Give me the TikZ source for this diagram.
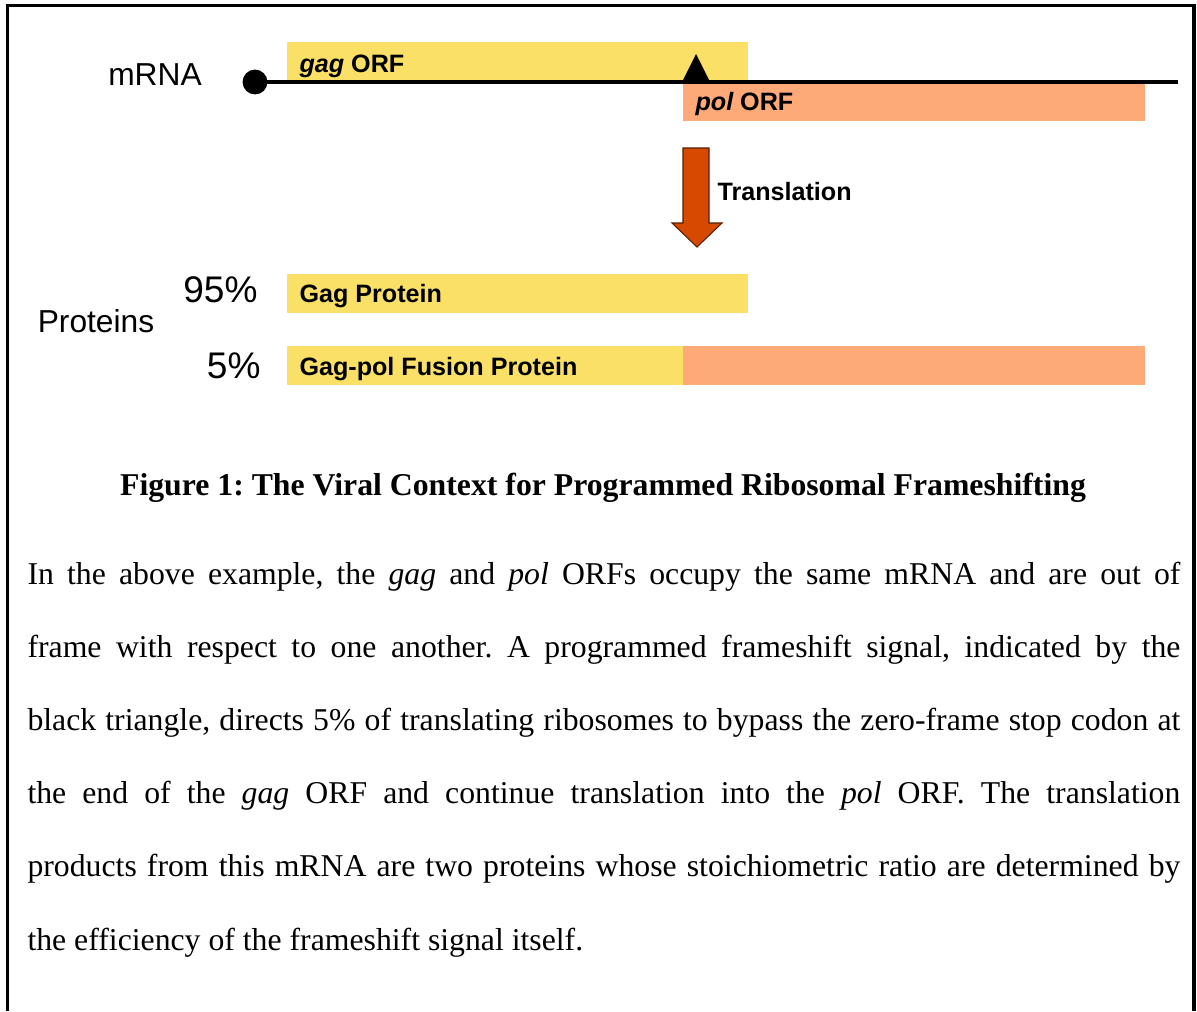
\documentclass[tikz,border=0pt]{standalone}
\usepackage{fontspec}
\setmainfont{Liberation Serif}
\setsansfont{Liberation Sans}
\usepackage{tikz}
\usetikzlibrary{positioning}
\definecolor{gagyellow}{RGB}{250,224,102}
\definecolor{polsalmon}{RGB}{253,169,120}
\definecolor{transorange}{RGB}{214,74,0}
\frenchspacing

\begin{document}
\begin{tikzpicture}[x=0.378pt, y=-0.378pt,
    lbl/.style={font=\sffamily\fontsize{12}{14}\selectfont, inner sep=0pt},
    pct/.style={font=\sffamily\fontsize{14}{16}\selectfont, inner sep=0pt, anchor=base east},
    orf/.style={font=\sffamily\bfseries\fontsize{9.5}{11}\selectfont, inner sep=0pt, anchor=base west}]
                            \useasboundingbox (0,0) rectangle (1197,1011);
                            % Frame
                            \draw[line width=1.2pt] (7.5,1011) -- (7.5,5.5) -- (1194,5.5) -- (1194,1011);
                            % Boxes
                            \foreach \xa/\ya/\xb/\yb/\c in {287/42/748/80/gagyellow, 683/84/1145/121/polsalmon,
                                287/274/748/313/gagyellow, 287/346/683/385/gagyellow, 683/346/1145/385/polsalmon} {
                              \fill[\c] (\xa,\ya) rectangle (\xb,\yb);
                            }
                            % mRNA
                            \node[circle, fill, inner sep=0pt, minimum size=9.4pt] (cap) at (255,82) {};
                            \coordinate (mrnaend) at (1178,82);
                            \draw[line width=1.7pt] (cap.center) -- (mrnaend);
                            \fill (683,80) -- (696,54) -- (709,80) -- cycle;
                            % Translation arrow
                            \filldraw[fill=transorange, draw=black!60!transorange, line width=0.4pt]
                              (683,148) -- (709,148) -- (709,223) -- (722,223) -- (697,247) -- (672,223) -- (683,223) -- cycle;
                            % Labels
                            \node[lbl, anchor=base] (mrna) at (155,85) {mRNA};
                            \node[lbl, anchor=base] (proteins) at (96,332) {Proteins};
                            \node[pct] (p95) at (258,302) {95\%};
                            \node[pct] (p5) at (261,378) {5\%};
                            \node[orf] (gagorf) at (299,72) {\itshape gag\upshape{} ORF};
                            \node[orf] (polorf) at (695,110) {\itshape pol\upshape{} ORF};
                            \node[orf] (transl) at (717,200) {Translation};
                            \node[orf] (gagprot) at (299,302) {Gag Protein};
                            \node[orf] (fusion) at (299,375) {Gag-pol Fusion Protein};
                            % Caption and text
                            \node[font=\bfseries\fontsize{12}{14}\selectfont, inner sep=0pt, anchor=base] (caption) at (603,495)
                              {Figure 1: The Viral Context for Programmed Ribosomal Frameshifting};
                            \node[anchor=base west, inner sep=0pt, text width=435.8pt, align=justify,
                                  font=\fontsize{12}{27.67}\selectfont] (body) at (27,584)
                              {In the above example, the \textit{gag} and \textit{pol} ORFs occupy the same mRNA and are out of\linebreak
                               frame with respect to one another. A programmed frameshift signal, indicated by the\linebreak
                               black triangle, directs 5\% of translating ribosomes to bypass the zero-frame stop codon at\linebreak
                               the end of the \textit{gag} ORF and continue translation into the \textit{pol} ORF. The translation\linebreak
                               products from this mRNA are two proteins whose stoichiometric ratio are determined by\linebreak
                               the efficiency of the frameshift signal itself.};
                        \end{tikzpicture}
\end{document}
